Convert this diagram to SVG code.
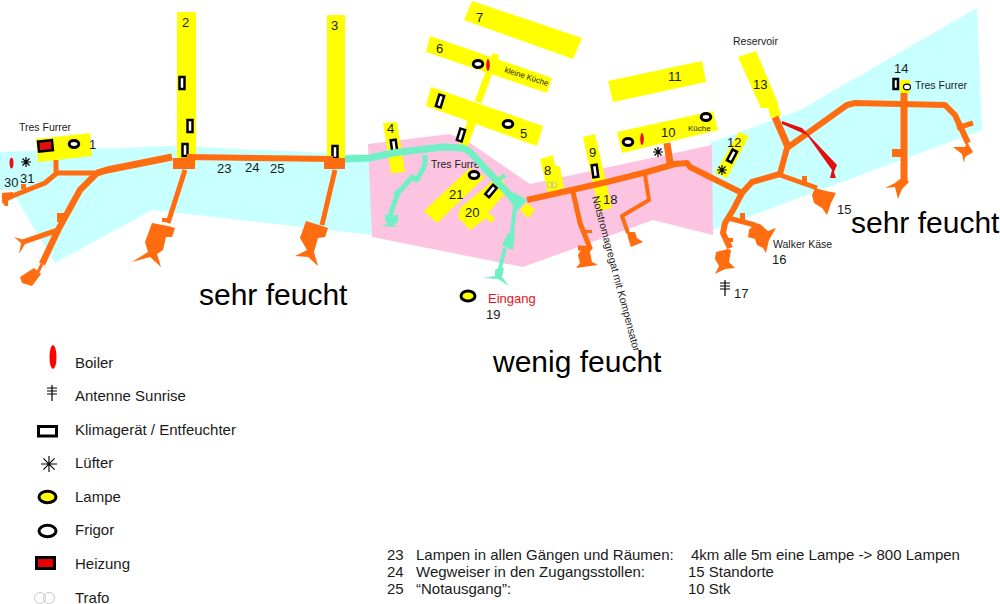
<svg xmlns="http://www.w3.org/2000/svg" width="1000" height="604" viewBox="0 0 1000 604">
<style>
text{font-family:"Liberation Sans",Arial,sans-serif;fill:#1a1a1a}
.n{font-size:13px}.s{font-size:10.5px}.t{font-size:8px}.l{font-size:15px}.b{font-size:15px}.h{font-size:30px;fill:#000}
.room{fill:#ffff00}
.o{fill:none;stroke:#ff6d10;stroke-linejoin:round}
.of{fill:#ff6d10}
.g{fill:none;stroke:#70f0c4;stroke-linejoin:round}
.gf{fill:#70f0c4}
.k{fill:#fff;stroke:#000;stroke-width:2.5}
.f{fill:#fff;stroke:#000;stroke-width:3}
.lamp{fill:#ff0;stroke:#000;stroke-width:3}
.boil{fill:#e8101c}
.fan{stroke:#000;stroke-width:1.2;fill:none}
.tr{fill:none;stroke:#bbb;stroke-width:.8}
</style>
<defs>
<g id="fan"><path class="fan" d="M-5 0H5M0-5V5M-3.5-3.5L3.5 3.5M-3.5 3.5L3.500-3.5"/></g>
<rect id="kl" class="k" x="-2.5" y="-6" width="5" height="12"/>
<ellipse id="fr" class="f" cx="0" cy="0" rx="4.8" ry="3.4"/>
<path id="ant" d="M0-8V8M-5-5H5M-5-2H5M-5 1H5" stroke="#000" stroke-width="1.2" fill="none"/>
</defs>

<g id="zones">
<polygon points="0,152 175,146 372,155 372,235 152,210 55,263 14,195 14,190 0,190" fill="#c8ffff"/>
<polygon points="710,143 800,110 977,8 982,130 713,230" fill="#c8ffff"/>
<polygon points="368,144 450,134 470,143 530,184 712,145 713,235 653,220 523,267 372,237" fill="#fcc4e0"/>
</g>

<g id="rooms">
<g id="room1"><polygon class="room" points="36,139 90,133 92,156 38,162"/><rect x="38.500" y="141" width="14" height="10" fill="#e01010" stroke="#000" stroke-width="2.500" transform="rotate(-6 45 146)"/><use href="#fr" x="74" y="144"/><text class="n" x="89" y="149">1</text><text class="s" x="19" y="131">Tres Furrer</text></g>
<g id="room2"><rect class="room" x="177" y="12" width="19" height="153"/><use href="#kl" x="182" y="83"/><use href="#kl" x="190" y="126"/><use href="#kl" x="185" y="150"/><text class="n" x="182" y="27">2</text></g>
<g id="room3"><rect class="room" x="327" y="15" width="18" height="145"/><use href="#kl" x="335" y="152"/><text class="n" x="331" y="30">3</text></g>
<g id="room4"><polygon class="room" points="383,123 397,122 405,172 391,173"/><use href="#kl" transform="translate(394 146) rotate(-8)"/><text class="n" x="387" y="133">4</text></g>
<g id="room7"><polygon class="room" points="472,1 582,38 573,59 464,20"/><text class="n" x="476" y="22">7</text></g>
<g id="room6"><polygon class="room" points="430,36 552,78 547,93 426,52"/><path d="M496 54L478 102" stroke="#ffff00" stroke-width="7" fill="none"/><use href="#fr" x="478" y="64"/><ellipse class="boil" cx="488" cy="65" rx="1.800" ry="6"/><text class="n" x="436" y="53">6</text><text class="t" transform="translate(504 72) rotate(18)">kleine Küche</text></g>
<g id="room5"><path d="M472 122L463 146" stroke="#ffff00" stroke-width="9" fill="none"/><polygon class="room" points="431,87 543,126 537,146 426,106"/><use href="#kl" transform="translate(440 101) rotate(17)"/><use href="#fr" x="508" y="124"/><use href="#kl" transform="translate(461 135) rotate(17)"/><text class="n" x="520" y="138">5</text></g>
<g id="room21"><polygon class="room" points="470,168 485,177 437,223 424,211"/><use href="#fr" x="474" y="175"/><text class="n" x="449" y="199">21</text><text class="s" x="431" y="168">Tres Furrer</text></g>
<g id="room20"><polygon class="room" points="500,175 508,190 488,213 495,218 491,223 486,218 470,230 458,217 460,208"/><use href="#kl" transform="translate(491 191) rotate(40)"/><text class="n" x="465" y="217">20</text></g>
<polygon id="room22" class="room" points="527,203 535,210 528,218 520,210"/>
<g id="room8"><polygon class="room" points="540,159 553,155 555,165 560,167 564,188 548,193"/><circle class="tr" cx="550" cy="185" r="3"/><circle class="tr" cx="554" cy="185" r="3"/><text class="n" x="544" y="175">8</text></g>
<g id="room9"><polygon class="room" points="583,137 595,134 612,208 599,211"/><use href="#kl" transform="translate(595 171) rotate(-8)"/><text class="n" x="589" y="157">9</text><text class="n" x="603" y="204">18</text></g>
<g id="room11"><polygon class="room" points="608,81 702,61 706,82 613,102"/><text class="n" x="668" y="81">11</text></g>
<g id="room10"><polygon class="room" points="617,132 713,111 718,130 622,153"/><use href="#fr" x="628" y="142"/><ellipse class="boil" cx="642" cy="139" rx="1.800" ry="6"/><use href="#fr" x="706" y="117"/><use href="#fan" x="658" y="152"/><text class="n" x="661" y="137">10</text><text class="t" x="688" y="131">Küche</text></g>
<g id="room12"><polygon class="room" points="739,132 749,136 727,178 715,173"/><use href="#kl" transform="translate(732 156) rotate(28)"/><use href="#fan" x="722" y="170"/><text class="n" x="727" y="147">12</text></g>
<g id="room13"><polygon class="room" points="738,57 756,51 777,101 781,116 771,118 768,108 761,108"/><text class="n" x="753" y="89">13</text><text class="s" x="733" y="45">Reservoir</text></g>
<g id="room14"><rect class="room" x="900" y="80" width="10" height="13"/><rect class="k" x="893.500" y="79" width="4.500" height="10"/><ellipse cx="907" cy="87" rx="3.500" ry="2.800" fill="#fff" stroke="#000" stroke-width="1.200"/><text class="n" x="894" y="73">14</text><text class="s" x="915" y="89">Tres Furrer</text></g>
</g>

<g id="connectors">
<path class="o" stroke-width="6" d="M187 157L333 159"/>
<path class="o" stroke-width="7" d="M172 157L107 170L97 173"/>
<path class="o" stroke-width="5" d="M97 173H57L45 183L10 197M56 160V172"/>
<path class="o" stroke-width="6.500" d="M97 173L80 190L58 230L42 264"/>
<path class="o" stroke-width="3" d="M42 264L38 272"/>
<path class="o" stroke-width="5.500" d="M58 230L23 242"/>
<path class="o" stroke-width="5" d="M185 170L168 223"/>
<path class="o" stroke-width="5" d="M335 170L322 225"/>
<path class="g" stroke-width="7" d="M345 159L370 158L393 153L443 147L463 148L470 152L517 203"/>
<path class="g" stroke-width="5" d="M425 155L425 165L417 180L412 177L398 193L390 215"/>
<path class="g" stroke-width="4" d="M515 206L512 234M505 248L500 268M505 175L498 180"/>
<path class="o" stroke-width="6" d="M527 200L607 182L647 172L675 164L687 163L690 167L742 193"/>
<path class="o" stroke-width="7" d="M667 143L670 163"/>
<path class="o" stroke-width="5" d="M573 192L580 223L590 248H578"/>
<path class="o" stroke-width="4" d="M645 175L649 200L622 216L628 233"/>
<path class="o" stroke-width="6" d="M742 193L752 182L780 174"/>
<path class="o" stroke-width="6" d="M780 174L787 148"/>
<path class="o" stroke-width="7" d="M775 117L788 147"/>
<path class="o" stroke-width="6" d="M787 148L847 105L855 103L945 105L955 115L968 143"/>
<path class="o" stroke-width="7" d="M904 93V180"/>
<path class="o" stroke-width="5" d="M957 128L973 123"/>
<path class="o" stroke-width="5" d="M780 175L817 188"/>
<path class="o" stroke-width="6" d="M742 193L733 210L725 223L723 233L730 248"/>
<path class="o" stroke-width="5" d="M728 218L755 225"/>
<polygon points="782,121 802,128 837,165 834,172 836,178 830,178 832,170 807,135 782,124" fill="#e01010"/>
</g>

<g id="chambers">
<polygon class="of" points="2,193 13,192 13,198 8,201 8,206 5,206 2,202"/>
<rect class="of" x="21" y="184" width="5" height="5"/>
<polygon class="of" points="14,237 24,240 25,244 19,254 21,243"/>
<polygon class="of" points="20,277 34,268 41,274 32,286 22,283"/>
<rect class="of" x="57" y="213" width="8" height="9"/>
<rect class="of" x="173" y="158" width="22" height="11"/>
<polygon class="of" points="152,223 168,226 175,228 172,237 166,237 163,250 157,254 161,267 150,257 132,262 148,252 145,242"/>
<rect class="of" x="162" y="218" width="5" height="4"/>
<rect class="of" x="324" y="158" width="21" height="11"/>
<polygon class="of" points="306,221 322,226 328,228 325,237 318,238 314,252 318,266 308,257 295,256 307,250 300,238"/>
<polygon class="gf" points="513,192 527,200 518,210 510,202"/>
<polygon class="gf" points="385,215 398,215 398,222 393,225 399,227 380,226 388,224 385,220"/>
<rect class="gf" x="394" y="191" width="6" height="5" transform="rotate(30 397 193)"/>
<polygon class="gf" points="502,245 508,233 515,233 513,250 507,248"/>
<polygon class="gf" points="495,270 500,267 504,268 502,277 509,286 498,279 483,278 495,276"/>
<polygon class="of" points="582,248 592,248 590,252 592,262 598,265 576,268 580,263 578,255"/>
<rect class="of" x="585" y="230" width="7" height="3"/>
<polygon class="of" points="627,232 635,232 637,238 643,242 631,247 628,238"/>
<polygon class="of" points="892,149 904,149 904,157 892,157"/>
<polygon class="of" points="885,188 895,187 898,199 902,189 909,182 904,176 895,183"/>
<polygon class="of" points="953,147 965,147 967,142 973,152 965,157 964,163 962,154"/>
<rect class="of" x="802" y="176" width="5" height="8"/>
<polygon class="of" points="812,195 815,188 826,191 836,193 831,203 827,215 822,208 814,203"/>
<rect class="of" x="740" y="213" width="5" height="7"/>
<polygon class="of" points="755,223 749,230 748,237 755,239 757,245 763,248 766,253 769,240 776,228 768,231 760,224"/>
<rect class="of" x="727" y="238" width="6" height="4"/>
<polygon class="of" points="716,252 728,249 731,250 729,262 735,268 725,269 715,274 719,266 715,259"/>
</g>

<g id="labels">
<text class="n" x="217" y="173">23</text><text class="n" x="245" y="172">24</text><text class="n" x="270" y="173">25</text>
<text class="n" x="4" y="187">30</text><text class="n" x="20" y="183">31</text>
<ellipse class="boil" cx="11.500" cy="163" rx="2" ry="5.500"/><use href="#fan" x="26" y="162"/>
<text class="h" x="199" y="305">sehr feucht</text>
<text class="h" x="493" y="372">wenig feucht</text>
<text class="h" x="851" y="233">sehr feucht</text>
<ellipse class="lamp" cx="468" cy="296" rx="7" ry="5"/>
<text x="488" y="303" style="font-size:13px;fill:#e8101c">Eingang</text>
<text class="n" x="486" y="319">19</text>
<text transform="translate(592 197) rotate(75)" style="font-size:10.500px">Notstromagregat mit Kompensator</text>
<text class="n" x="837" y="214">15</text>
<text class="s" x="773" y="248">Walker Käse</text>
<text class="n" x="772" y="264">16</text>
<use href="#ant" x="725" y="288"/>
<text class="n" x="734" y="298">17</text>
</g>

<g id="legend">
<ellipse cx="53" cy="357" rx="3.500" ry="12" fill="#f00"/><text class="l" x="75" y="368">Boiler</text>
<use href="#ant" x="52" y="393"/><text class="l" x="75" y="401">Antenne Sunrise</text>
<rect x="38.500" y="426.500" width="18" height="9.500" fill="#fff" stroke="#000" stroke-width="3"/><text class="l" x="75" y="435">Klimagerät / Entfeuchter</text>
<path transform="translate(49 464) scale(1.600)" d="M-5 0H5M0-5V5M-3.500-3.500L3.500 3.500M-3.500 3.500L3.500-3.500" stroke="#000" stroke-width=".7" fill="none"/><text class="l" x="75" y="468">Lüfter</text>
<ellipse class="lamp" cx="47.500" cy="497" rx="8.500" ry="5.800"/><text class="l" x="75" y="502">Lampe</text>
<ellipse class="f" cx="47.500" cy="531" rx="8.500" ry="5.800"/><text class="l" x="75" y="535">Frigor</text>
<rect x="36.500" y="557.500" width="18" height="11" fill="#e60000" stroke="#000" stroke-width="3"/><text class="l" x="75" y="569">Heizung</text>
<circle class="tr" cx="40" cy="598" r="5.500"/><circle class="tr" cx="49" cy="598" r="5.500"/><text class="l" x="75" y="603">Trafo</text>
</g>

<g id="notes">
<text class="b" x="387" y="560">23</text><text class="b" x="416" y="560">Lampen in allen Gängen und Räumen:</text><text class="b" x="691" y="560">4km alle 5m eine Lampe -&gt; 800 Lampen</text>
<text class="b" x="387" y="577">24</text><text class="b" x="416" y="577">Wegweiser in den Zugangsstollen:</text><text class="b" x="688" y="577">15 Standorte</text>
<text class="b" x="387" y="594">25</text><text class="b" x="416" y="594">“Notausgang”:</text><text class="b" x="688" y="594">10 Stk</text>
</g>
</svg>
